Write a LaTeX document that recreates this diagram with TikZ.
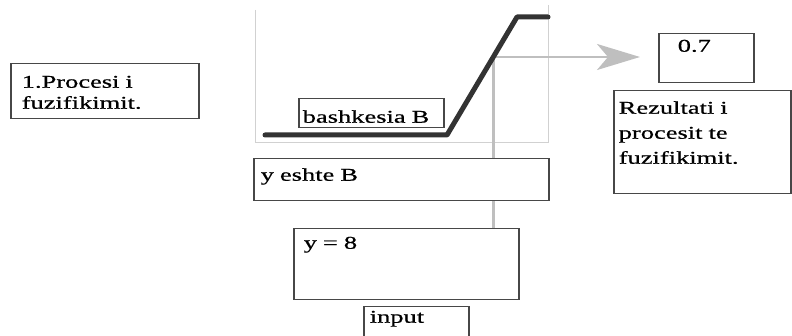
\documentclass[tikz,border=0pt]{standalone}
\usepackage{fontspec}
\setmainfont{Liberation Serif}[FakeStretch=1.47,FakeBold=0.6]
\usetikzlibrary{arrows.meta}

\begin{document}
\begin{tikzpicture}[x=1pt,y=-1pt,
  box/.style={draw=black!72,line width=1.5pt,fill=white,anchor=north west,
    align=left,inner ysep=0pt,font=\fontsize{18}{21}\selectfont},
  frame/.style={black!18,line width=0.9pt},
  feed/.style={black!25,line width=2.6pt},
  curve/.style={black!80,line width=5pt,line cap=round,line join=round}]

\useasboundingbox (0,0) rectangle (792,336);

%=== Membership chart of set B ===
\draw[frame] (255,10) -- (255,142) -- (548,142) -- (548,5);
\coordinate (cross) at (493.3,57);
\coordinate (tip) at (640,57);

%=== Boxes ===
\node[box,inner xsep=11pt,text width=166pt,text height=24pt,text depth=31pt]
  (proc) at (10,63) {1.Procesi i\\fuzifikimit.};
\node[box,inner xsep=10pt,text width=205pt,text height=20pt,text depth=51pt]
  (yeq) at (293,228) {y = 8};

% reading the input up to the curve, then out to the result
\draw[feed] (cross) -- (cross |- yeq.north);
\draw[feed,-{Stealth[length=43pt,width=26pt,inset=11pt]}] (cross) -- (tip);
\node[box,inner xsep=7pt,text width=281pt,text height=22pt,text depth=20pt]
  (yeshte) at (253,158) {y eshte B};

% set B (thick ramp)
\draw[curve] (265,135) -- (447,135) -- (517,17) -- (548,17);

\node[box,inner xsep=4pt,text width=137pt,text height=24pt,text depth=5pt]
  (bashk) at (298,98) {bashkesia B};
\node[box,inner xsep=6pt,text width=93pt,text height=16pt,text depth=24pt]
  (input) at (363,306) {input};
\node[box,inner xsep=19pt,text width=57pt,text height=18pt,text depth=31pt]
  (val) at (658,33) {0.7};
\node[box,font=\fontsize{18}{25}\selectfont,inner xsep=5pt,text width=167pt,
  text height=23pt,text depth=80pt]
  (rez) at (613,90) {Rezultati i\\procesit te\\fuzifikimit.};

\end{tikzpicture}
\end{document}
